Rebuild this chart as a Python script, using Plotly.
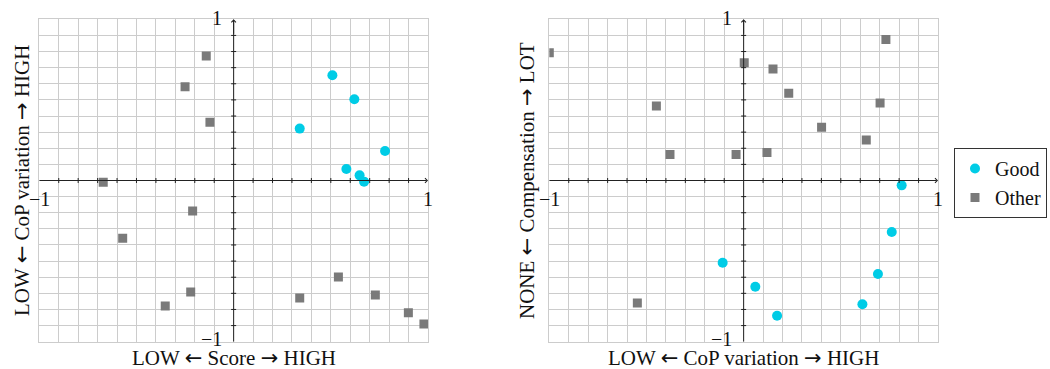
import plotly.graph_objects as go
from plotly.subplots import make_subplots

# ---- data ----
left_good_x = [0.508, 0.621, 0.340, 0.779, 0.580, 0.648, 0.671]
left_good_y = [0.653, 0.504, 0.322, 0.183, 0.071, 0.032, -0.007]
left_other_x = [-0.141, -0.250, -0.122, -0.671, -0.211, -0.571, -0.221, -0.352, 0.340, 0.539, 0.729, 0.899, 0.979]
left_other_y = [0.772, 0.582, 0.361, -0.011, -0.189, -0.359, -0.692, -0.779, -0.729, -0.599, -0.710, -0.820, -0.890]

right_good_x = [0.813, 0.762, -0.108, 0.691, 0.060, 0.611, 0.172]
right_good_y = [-0.030, -0.320, -0.510, -0.580, -0.659, -0.768, -0.839]
right_other_x = [-1.0, 0.732, 0.003, 0.151, 0.232, -0.449, 0.702, 0.401, 0.631, -0.379, -0.039, 0.120, -0.547]
right_other_y = [0.793, 0.874, 0.731, 0.692, 0.541, 0.462, 0.481, 0.330, 0.251, 0.162, 0.162, 0.173, -0.760]

x_titles = [("LOW", "Score", "HIGH"), ("LOW", "CoP variation", "HIGH")]
y_titles = [("LOW", "CoP variation", "HIGH"), ("NONE", "Compensation", "LOT")]
series_names = ["Good", "Other"]

CYAN = "#00CCE6"
GRAY = "#7a7a7a"
GRID = "#cccccc"
AXIS = "#222222"
FONT = "Liberation Serif"
W, H = 1050, 369

LA = "<span style='font-family:DejaVu Sans'>\u2190</span>"
RA = "<span style='font-family:DejaVu Sans'>\u2192</span>"


def arrow_title(parts):
    lo, mid, hi = parts
    return f"{lo} {LA} {mid} {RA} {hi}"


xdoms = [[39.3 / W, 428.0 / W], [549.3 / W, 938.0 / W]]
ydom = [(H - 341.7) / H, (H - 19.3) / H]

fig = make_subplots(rows=1, cols=2)

panels = [
    (left_good_x, left_good_y, left_other_x, left_other_y),
    (right_good_x, right_good_y, right_other_x, right_other_y),
]

for i, (gx, gy, ox, oy) in enumerate(panels):
    col = i + 1
    fig.add_trace(go.Scatter(x=gx, y=gy, mode="markers", name=series_names[0],
                             marker=dict(symbol="circle", size=10, color=CYAN),
                             showlegend=(i == 0), legendgroup="g"), row=1, col=col)
    fig.add_trace(go.Scatter(x=ox, y=oy, mode="markers", name=series_names[1],
                             marker=dict(symbol="square", size=9, color=GRAY),
                             showlegend=(i == 0), legendgroup="o"), row=1, col=col)

ticks = [round(-1 + 0.1 * k, 1) for k in range(21)]
shapes = []
annotations = []
for i in range(2):
    xa = "x" if i == 0 else "x2"
    ya = "y" if i == 0 else "y2"
    fig.update_xaxes(domain=xdoms[i], range=[-1, 1], tickvals=ticks, showticklabels=False,
                     showgrid=True, gridcolor=GRID, gridwidth=1, zeroline=False,
                     showline=True, linecolor=GRID, linewidth=1, mirror=True, ticks="",
                     row=1, col=i + 1)
    fig.update_yaxes(domain=ydom, range=[-1, 1], tickvals=ticks, showticklabels=False,
                     showgrid=True, gridcolor=GRID, gridwidth=1, zeroline=False,
                     showline=True, linecolor=GRID, linewidth=1, mirror=True, ticks="",
                     row=1, col=i + 1)
    # axes lines through zero
    shapes.append(dict(type="line", xref=xa, yref=ya, x0=-1, x1=0.99, y0=0, y1=0,
                       line=dict(color=AXIS, width=1)))
    shapes.append(dict(type="line", xref=xa, yref=ya, x0=0, x1=0, y0=-1, y1=0.99,
                       line=dict(color=AXIS, width=1)))
    # small tick marks
    for t in ticks[1:-1]:
        if abs(t) < 1e-9:
            continue
        shapes.append(dict(type="line", xref=xa, yref=ya, ysizemode="pixel",
                           yanchor=0, x0=t, x1=t, y0=-2.5, y1=2.5, line=dict(color=AXIS, width=1)))
        shapes.append(dict(type="line", xref=xa, yref=ya, xsizemode="pixel",
                           xanchor=0, x0=-2.5, x1=2.5, y0=t, y1=t, line=dict(color=AXIS, width=1)))
    # arrowheads
    annotations.append(dict(xref=xa, yref=ya, x=1, y=0, ax=0.9, ay=0, axref=xa, ayref=ya,
                            showarrow=True, arrowhead=4, arrowsize=0.9, arrowwidth=1,
                            arrowcolor=AXIS, text=""))
    annotations.append(dict(xref=xa, yref=ya, x=0, y=1, ax=0, ay=0.9, axref=xa, ayref=ya,
                            showarrow=True, arrowhead=4, arrowsize=0.9, arrowwidth=1,
                            arrowcolor=AXIS, text=""))
    # end labels
    f = dict(family=FONT, size=20, color="#111111")
    annotations += [
        dict(xref=xa, yref=ya, x=0, y=1, text="1", showarrow=False, xanchor="right",
             yanchor="middle", xshift=-10, yshift=1, font=f),
        dict(xref=xa, yref=ya, x=0, y=-1, text="\u22121", showarrow=False, xanchor="right",
             yanchor="middle", xshift=-10, yshift=3, font=f),
        dict(xref=xa, yref=ya, x=-1, y=0, text="\u22121", showarrow=False, xanchor="center",
             yanchor="middle", yshift=-19, font=f),
        dict(xref=xa, yref=ya, x=1, y=0, text="1", showarrow=False, xanchor="center",
             yanchor="middle", yshift=-19, font=f),
    ]
    # axis titles
    tf = dict(family=FONT, size=21, color="#111111")
    xc = (xdoms[i][0] + xdoms[i][1]) / 2
    annotations.append(dict(xref="paper", yref="paper", x=xc, y=(H - 358) / H,
                            text=arrow_title(x_titles[i]),
                            showarrow=False, xanchor="center", yanchor="middle", font=tf))
    xt = [22.0, 527.0][i]
    annotations.append(dict(xref="paper", yref="paper", x=xt / W, y=(H - 181) / H,
                            text=arrow_title(y_titles[i]),
                            showarrow=False, xanchor="center", yanchor="middle", textangle=-90, font=tf))

fig.update_layout(
    width=W, height=H, margin=dict(l=0, r=0, t=0, b=0),
    paper_bgcolor="white", plot_bgcolor="white",
    shapes=shapes, annotations=annotations,
    legend=dict(x=1047 / W, y=(H - 148) / H, xanchor="right", yanchor="top",
                bordercolor="#333333", borderwidth=1, font=dict(family=FONT, size=20, color="#111111"),
                itemwidth=30, tracegroupgap=0, bgcolor="white"),
)

fig.write_html("out.html")
